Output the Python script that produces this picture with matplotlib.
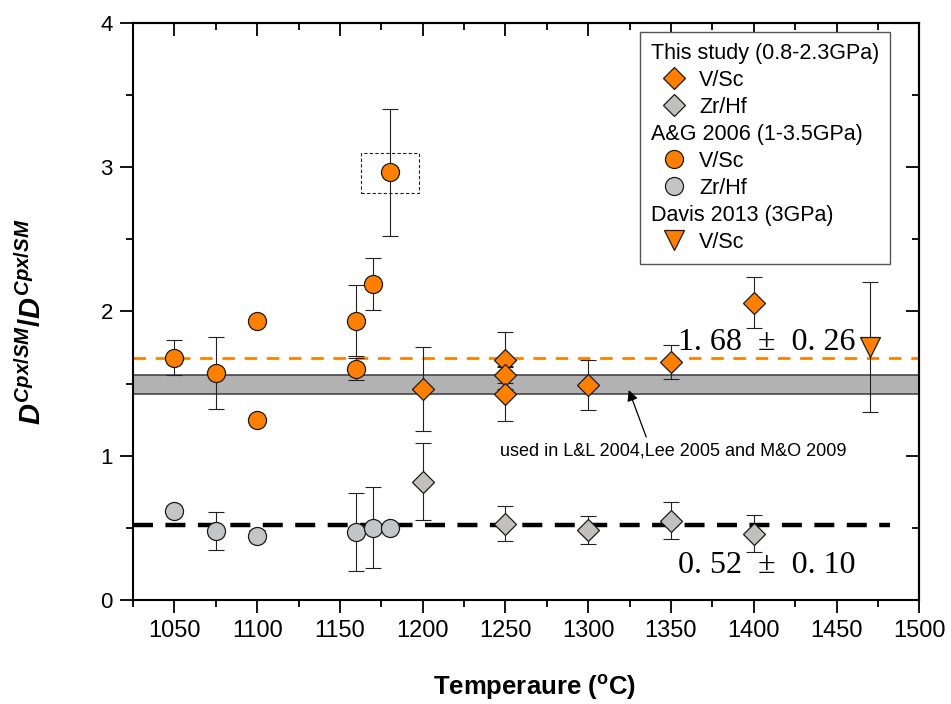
import numpy as np
import matplotlib
matplotlib.use("Agg")
import matplotlib.pyplot as plt
from matplotlib.lines import Line2D
from matplotlib.legend_handler import HandlerLine2D
from matplotlib.patches import Rectangle
from matplotlib.ticker import NullFormatter

plt.rcParams['font.family'] = ['Liberation Sans', 'DejaVu Sans']
plt.rcParams['mathtext.fontset'] = 'custom'
plt.rcParams['mathtext.it'] = 'Liberation Sans:italic:bold'
plt.rcParams['mathtext.rm'] = 'Liberation Sans:bold'
plt.rcParams['mathtext.bf'] = 'Liberation Sans:bold'

# ---------------- data ----------------
# A&G 2006 V/Sc (orange circles)
ag_vsc_T = [1050, 1075, 1100, 1100, 1160, 1160, 1170, 1180]
ag_vsc = [1.68, 1.575, 1.93, 1.245, 1.935, 1.60, 2.19, 2.965]
ag_vsc_err = [0.12, 0.25, 0.02, 0.02, 0.245, 0.075, 0.18, 0.44]

# A&G 2006 Zr/Hf (gray circles)
ag_zrhf_T = [1050, 1075, 1100, 1160, 1170, 1180]
ag_zrhf = [0.62, 0.478, 0.446, 0.471, 0.50, 0.50]
ag_zrhf_err = [0.03, 0.13, 0.04, 0.27, 0.28, 0.0]

# This study V/Sc (orange diamonds)
ts_vsc_T = [1200, 1250, 1250, 1250, 1300, 1350, 1400]
ts_vsc = [1.46, 1.66, 1.557, 1.43, 1.49, 1.65, 2.06]
ts_vsc_err = [0.29, 0.20, 0.055, 0.19, 0.175, 0.12, 0.175]

# This study Zr/Hf (gray diamonds)
ts_zrhf_T = [1200, 1250, 1300, 1350, 1400]
ts_zrhf = [0.82, 0.53, 0.485, 0.55, 0.46]
ts_zrhf_err = [0.265, 0.12, 0.10, 0.13, 0.13]

# Davis 2013 V/Sc (orange triangle)
dv_vsc_T = [1470]
dv_vsc = [1.75]
dv_vsc_err = [0.45]

# reference levels
vsc_mean = 1.68
zrhf_mean = 0.52
zrhf_line_end = 1482
band_lo, band_hi = 1.43, 1.56
box_T0, box_T1, box_y0, box_y1 = 1163, 1198, 2.82, 3.095

x_major = np.arange(1050, 1501, 50)
x_minor = np.arange(1025, 1501, 25)
y_major = [0, 1, 2, 3, 4]
y_minor = np.arange(0, 4.01, 0.5)

ORANGE = '#FF8000'
GRAY_C = '#C3C5C7'
GRAY_D = '#C2C0BC'
EDGE = '#1a1a1a'

# ---------------- figure ----------------
fig = plt.figure(figsize=(9.51, 7.04), dpi=100)
ax = fig.add_axes([133/951, 1-600/704, (919.3-133)/951, (600-22.7)/704])

ax.axhspan(band_lo, band_hi, facecolor='#B2B2B2', edgecolor='#3a3a3a', lw=1.1, zorder=1)
ax.axhline(vsc_mean, color=ORANGE, lw=2.0, dashes=(4.5, 3.5), zorder=2)
ax.hlines(zrhf_mean, 1025, zrhf_line_end, color='black', lw=3.2, linestyles=[(0, (4.5, 2.8))], zorder=2)


def series(T, v, e, marker, color, ms):
    ax.errorbar(T, v, yerr=e, fmt='none', ecolor='#222222', elinewidth=0.8,
                capsize=5.5, capthick=0.8, zorder=3)
    ax.plot(T, v, ls='none', marker=marker, ms=ms, mfc=color, mec=EDGE, mew=0.9, zorder=4)


series(ag_vsc_T, ag_vsc, ag_vsc_err, 'o', ORANGE, 13)
series(ag_zrhf_T, ag_zrhf, ag_zrhf_err, 'o', GRAY_C, 13)
series(ts_vsc_T, ts_vsc, ts_vsc_err, 'D', ORANGE, 11.5)
series(ts_zrhf_T, ts_zrhf, ts_zrhf_err, 'D', GRAY_D, 11.5)
series(dv_vsc_T, dv_vsc, dv_vsc_err, 'v', ORANGE, 14)

ax.add_patch(Rectangle((box_T0, box_y0), box_T1-box_T0, box_y1-box_y0, fill=False,
                       ec='#222222', lw=0.8, ls=(0, (3, 2)), zorder=5))

ax.text(1354.5, 1.732, '1. 68  ±  0. 26', family=['Liberation Serif', 'DejaVu Serif'],
        fontsize=23, va='baseline', ha='left', zorder=6)
ax.text(1354.5, 0.187, '0. 52  ±  0. 10', family=['Liberation Serif', 'DejaVu Serif'],
        fontsize=23, va='baseline', ha='left', zorder=6)
ax.text(1246.5, 1.0, 'used in L&L 2004,Lee 2005 and M&O 2009', fontsize=13,
        va='baseline', ha='left', zorder=6)
ax.annotate('', xy=(1324.5, 1.455), xytext=(1335, 1.13),
            arrowprops=dict(arrowstyle='-|>', color='black', lw=0.9, mutation_scale=16,
                            shrinkA=0, shrinkB=0), zorder=6)

# ---------------- axes ----------------
ax.set_xlim(1025, 1500)
ax.set_ylim(0, 4)
ax.set_xticks(x_major)
ax.set_xticks(x_minor, minor=True)
ax.set_yticks(y_major)
ax.set_yticks(y_minor, minor=True)
ax.tick_params(axis='both', which='major', direction='out', length=9.5, width=1.3, pad=5)
ax.tick_params(axis='both', which='minor', direction='out', length=5, width=1.3)
ax.tick_params(axis='x', which='major', labelsize=17)
ax.tick_params(axis='y', which='major', labelsize=16)
for sp in ax.spines.values():
    sp.set_linewidth(1.5)

top = ax.secondary_xaxis('top')
top.set_xticks(x_major)
top.set_xticks(x_minor, minor=True)
top.xaxis.set_major_formatter(NullFormatter())
top.tick_params(which='major', direction='in', length=9.5, width=1.3)
top.tick_params(which='minor', direction='in', length=5, width=1.3)
top.spines['top'].set_linewidth(1.5)

right = ax.secondary_yaxis('right')
right.set_yticks(y_major)
right.set_yticks(y_minor, minor=True)
right.yaxis.set_major_formatter(NullFormatter())
right.tick_params(which='major', direction='in', length=9.5, width=1.3)
right.tick_params(which='minor', direction='in', length=5, width=1.3)
right.spines['right'].set_linewidth(1.5)

ax.set_xlabel(r'Temperaure ($^{\mathrm{o}}$C)', fontsize=18.5, fontweight='bold')
ax.xaxis.set_label_coords(0.51, -0.126)
ax.set_ylabel(r'$D^{Cpx/SM}/D^{Cpx/SM}$', fontsize=21)
ax.yaxis.set_label_coords(-0.109, 0.482)


# ---------------- legend ----------------
class ShiftedHandler(HandlerLine2D):
    def __init__(self, shift, **kw):
        super().__init__(**kw)
        self.shift = shift

    def create_artists(self, legend, orig_handle, xdescent, ydescent, width, height, fontsize, trans):
        arts = super().create_artists(legend, orig_handle, xdescent, ydescent, width, height,
                                      fontsize, trans)
        for a in arts:
            a.set_xdata(np.asarray(a.get_xdata(), float) + self.shift)
        return arts


def mk(marker, color, ms):
    return Line2D([], [], ls='none', marker=marker, ms=ms, mfc=color, mec=EDGE, mew=0.9)


hdr1 = Line2D([], [], ls='none', marker='none')
hdr2 = Line2D([], [], ls='none', marker='none')
hdr3 = Line2D([], [], ls='none', marker='none')
h_ts_v = mk('D', ORANGE, 11.5)
h_ts_z = mk('D', GRAY_D, 11.5)
h_ag_v = mk('o', ORANGE, 13)
h_ag_z = mk('o', GRAY_C, 13)
h_dv_v = mk('v', ORANGE, 14)

handles = [hdr1, h_ts_v, h_ts_z, hdr2, h_ag_v, h_ag_z, hdr3, h_dv_v]
labels = ['This study (0.8-2.3GPa)', 'V/Sc', 'Zr/Hf', 'A&G 2006 (1-3.5GPa)', 'V/Sc', 'Zr/Hf',
          'Davis 2013 (3GPa)', 'V/Sc']
is_item = [False, True, True, False, True, True, False, True]

sh = ShiftedHandler(16.5)
hmap = {h: sh for h, it in zip(handles, is_item) if it}
leg = ax.legend(handles, labels, handler_map=hmap, loc='upper right',
                bbox_to_anchor=(0.9627, 0.9839), borderaxespad=0, fontsize=15.5,
                handlelength=0, handletextpad=0, borderpad=0.5, labelspacing=0.28,
                frameon=True, fancybox=False, edgecolor='#555555', framealpha=1)
leg.get_frame().set_linewidth(1.0)
for t, it in zip(leg.get_texts(), is_item):
    if it:
        t.set_x(48)

fig.savefig('out.png', dpi=100)
